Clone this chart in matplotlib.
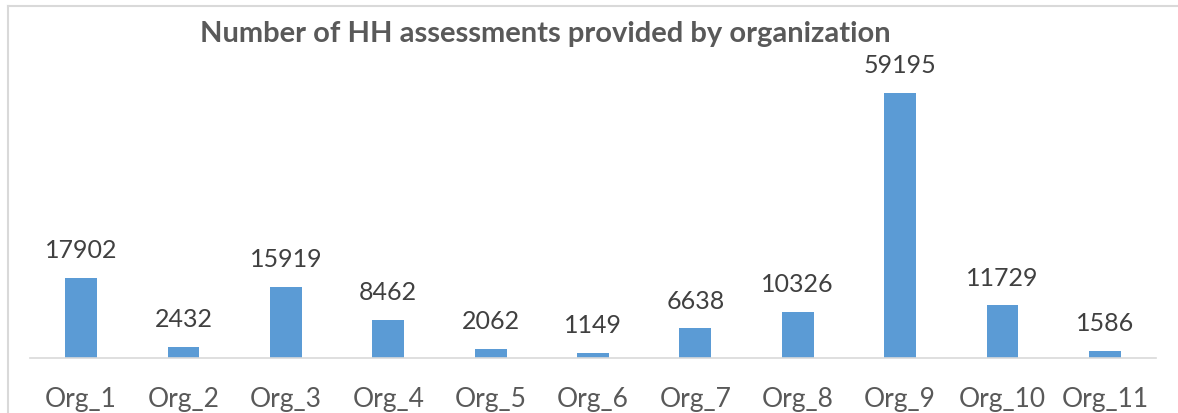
import matplotlib.pyplot as plt
from matplotlib.lines import Line2D

orgs = ["Org_1", "Org_2", "Org_3", "Org_4", "Org_5", "Org_6",
        "Org_7", "Org_8", "Org_9", "Org_10", "Org_11"]
assessments = [17902, 2432, 15919, 8462, 2062, 1149, 6638, 10326, 59195, 11729, 1586]

plt.rcParams['font.family'] = ['Lato', 'DejaVu Sans']

W, H = 1178, 414
fig = plt.figure(figsize=(W / 100, H / 100), dpi=100)

# axes placed in pixel terms: baseline at y=358, left 30, right 1156
base = 359
ax_top = 40
ax = fig.add_axes([30 / W, (H - base) / H, (1156 - 30) / W, (base - ax_top) / H])

x = range(len(orgs))
bars = ax.bar(x, assessments, width=0.31, color='#5B9BD5')
ax.set_xlim(-0.5, len(orgs) - 0.5)
# 59195 should reach y=94
ax.set_ylim(0, max(assessments) * (base - ax_top) / (base - 94))

for xi, v in zip(x, assessments):
    ax.annotate(str(v), (xi, v), xytext=(0, 12), textcoords='offset points',
                ha='center', va='bottom', fontsize=18, color='#404040')

ax.set_xticks(list(x))
ax.set_xticklabels(orgs, fontsize=19, color='#595959')
ax.tick_params(axis='x', length=0, pad=20)
ax.set_yticks([])
for s in ['top', 'right', 'left']:
    ax.spines[s].set_visible(False)
ax.spines['bottom'].set_color('#D9D9D9')
ax.spines['bottom'].set_linewidth(1.2)

fig.text(545 / W, 1 - 34 / H, "Number of HH assessments provided by organization",
         ha='center', va='center', fontsize=21, fontweight='bold', color='#595959')

# chart frame (top and left edges visible)
fig.add_artist(Line2D([8 / W, 1.0], [1 - 7 / H, 1 - 7 / H], transform=fig.transFigure,
                      color='#D9D9D9', lw=1.5))
fig.add_artist(Line2D([8 / W, 8 / W], [0, 1 - 7 / H], transform=fig.transFigure,
                      color='#D9D9D9', lw=1.5))

fig.savefig('out.png', dpi=100)
